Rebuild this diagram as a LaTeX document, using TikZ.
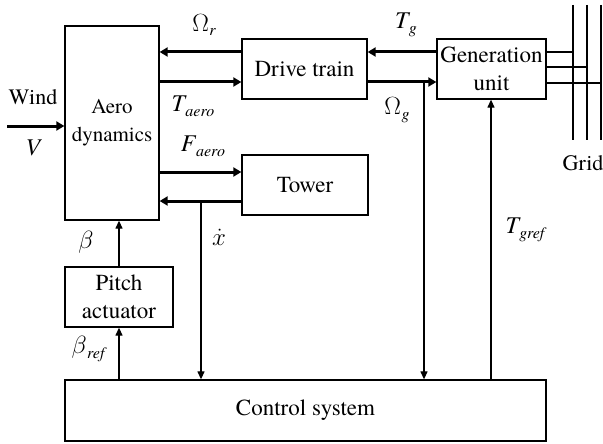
\documentclass[tikz,border=0pt]{standalone}
\usepackage{fontspec}
\setmainfont{TeX Gyre Termes}
\newfontfamily\tms{TeX Gyre Termes}
\usetikzlibrary{arrows.meta}
\newcommand\lsub[2]{#1\kern0.5pt\raisebox{-0.45ex}{\fontsize{16}{16}\selectfont\tms\itshape #2}}
\begin{document}
\begin{tikzpicture}[x=1pt,y=-1pt,
  box/.style={draw,line width=1.3pt,inner sep=0pt,align=center,font=\tms\fontsize{23}{28}\selectfont},
  thin/.style={line width=1.2pt,-{Triangle[length=8pt,width=7pt]}},
  thickarr/.style={line width=3pt,-{Triangle[length=8pt,width=9pt]}},
  plain/.style={line width=1.2pt},
  lbl/.style={inner sep=0pt,font=\tms\fontsize{24}{24}\selectfont}]
\useasboundingbox (0,0) rectangle (603,444);
\node[box,minimum width=94pt,minimum height=194pt,font=\tms\fontsize{21}{28}\selectfont] (aero) at (112,123) {Aero\\dynamics};
\node[box,minimum width=125pt,minimum height=60pt] (drive) at (304.5,69) {Drive train};
\node[box,minimum width=126pt,minimum height=60pt] (tower) at (305,185) {Tower};
\node[box,minimum width=109pt,minimum height=60pt] (gen) at (491.5,69) {Generation\\unit};
\node[box,minimum width=108pt,minimum height=60pt] (pitch) at (119,297) {Pitch\\actuator};
\node[box,minimum width=481pt,minimum height=61pt] (ctrl) at (305.5,410.5) {Control system};
% wind
\coordinate (wstart) at (7,126);
\draw[thickarr] (wstart) -- (wstart -| aero.west);
\node[lbl,font=\tms\fontsize{22}{22}\selectfont] (wind) at (33,97) {Wind};
\node[lbl] (v) at (33,148) {\itshape V};
% aero <-> drive
\draw[thickarr] (drive.west |- 0,52) -- (aero.east |- 0,52);
\draw[thickarr] (aero.east |- 0,82) -- (drive.west |- 0,82);
% aero <-> tower
\draw[thickarr] (aero.east |- 0,172) -- (tower.west |- 0,172);
\draw[thickarr] (tower.west |- 0,201) -- (aero.east |- 0,201);
% drive <-> gen
\draw[thickarr] (gen.west |- 0,52) -- (drive.east |- 0,52);
\draw[thickarr] (drive.east |- 0,82) -- (gen.west |- 0,82);
% feedback lines
\coordinate (jx) at (201,201);
\draw[thin] (jx) -- (jx |- ctrl.north);
\coordinate (jg) at (424,82);
\draw[thin] (jg) -- (jg |- ctrl.north);
\coordinate (tg) at (491,380);
\draw[thin] (tg) -- (tg |- gen.south);
% pitch
\draw[thin] (pitch.north) -- (pitch.north |- aero.south);
\draw[thin] (pitch.south |- ctrl.north) -- (pitch.south);
% grid
\coordinate (g1t) at (573,5); \coordinate (g1b) at (573,140);
\coordinate (g2t) at (587,5); \coordinate (g2b) at (587,140);
\coordinate (g3t) at (601,5); \coordinate (g3b) at (601,140);
\draw[plain] (g1t) -- (g1b);
\draw[plain] (g2t) -- (g2b);
\draw[plain] (g3t) -- (g3b);
\draw[plain] (gen.east |- 0,52) -- (g1t |- 0,52);
\draw[plain] (gen.east |- 0,67) -- (g2t |- 0,67);
\draw[plain] (gen.east |- 0,83) -- (g3t |- 0,83);
\node[lbl,font=\tms\fontsize{22}{22}\selectfont] (grid) at (583,163) {Grid};
% labels
\node[lbl] (lor) at (204,25) {\lsub{$\Omega$}{r}};
\node[lbl] (lta) at (193,106) {\lsub{\itshape T}{aero}};
\node[lbl] (lfa) at (203,146) {\lsub{\itshape F}{aero}};
\node[lbl] (lx) at (219,237) {$\dot{x}$};
\node[lbl] (lb) at (86,242) {$\beta$};
\node[lbl] (lbr) at (88,349) {\lsub{$\beta$}{ref}};
\node[lbl] (ltg) at (406,25) {\lsub{\itshape T}{g}};
\node[lbl] (log) at (397,110) {\lsub{$\Omega$}{g}};
\node[lbl] (ltr) at (525,230) {\lsub{\itshape T}{gref}};
\end{tikzpicture}
\end{document}
